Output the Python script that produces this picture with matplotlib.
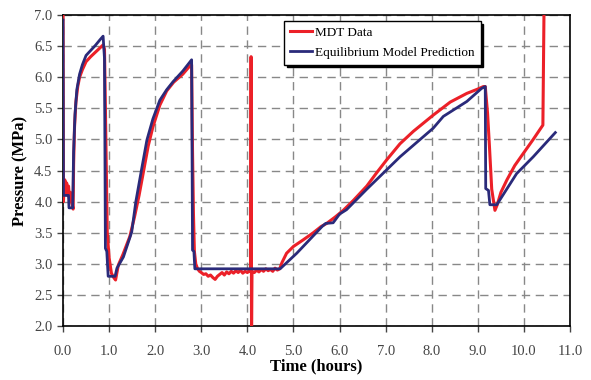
import matplotlib
matplotlib.use("Agg")
import matplotlib.pyplot as plt
from matplotlib.ticker import MultipleLocator, FormatStrFormatter

# MDT measured pressure (hours, MPa)
mdt_t = [0.0, 0.01, 0.02, 0.04, 0.06, 0.08, 0.10, 0.12, 0.14, 0.16, 0.18, 0.20, 0.22,
         0.23, 0.25, 0.28, 0.32, 0.36, 0.42, 0.50, 0.60, 0.70, 0.80, 0.87, 0.90,
         0.92, 0.94, 0.96, 1.00, 1.05, 1.10, 1.14, 1.20, 1.30, 1.45, 1.55, 1.65,
         1.75, 1.85, 1.95, 2.10, 2.25, 2.40, 2.60, 2.75, 2.79, 2.81, 2.83, 2.85,
         2.88, 2.92, 2.96, 3.00, 3.05, 3.10, 3.15, 3.20, 3.25, 3.30, 3.35, 3.40,
         3.45, 3.50, 3.55, 3.60, 3.65, 3.70, 3.75, 3.80, 3.85, 3.90, 3.95, 4.00,
         4.05, 4.07, 4.08, 4.09, 4.10, 4.15, 4.20, 4.25, 4.30, 4.35, 4.40, 4.45,
         4.50, 4.55, 4.60, 4.65, 4.70, 4.75, 4.85, 5.00, 5.20, 5.43, 5.60, 5.72,
         5.90, 6.08, 6.30, 6.59, 6.80, 7.02, 7.31, 7.60, 8.03, 8.40, 8.76, 9.00,
         9.12, 9.16, 9.21, 9.25, 9.30, 9.37, 9.42, 9.50, 9.63, 9.80, 9.99, 10.20,
         10.41, 10.44]
mdt_p = [7.3, 4.0, 4.2, 4.35, 4.15, 4.3, 4.1, 4.25, 4.05, 4.15, 4.0, 3.95, 3.88,
         4.6, 5.2, 5.6, 5.85, 6.0, 6.12, 6.25, 6.33, 6.4, 6.47, 6.52, 6.45,
         5.5, 4.5, 3.5, 3.1, 2.85, 2.78, 2.74, 2.98, 3.15, 3.44, 3.75, 4.1,
         4.5, 4.9, 5.2, 5.55, 5.78, 5.92, 6.05, 6.18, 6.2, 4.8, 3.8, 3.2,
         3.0, 2.92, 2.88, 2.86, 2.83, 2.84, 2.80, 2.82, 2.78, 2.75, 2.80, 2.83,
         2.86, 2.82, 2.87, 2.84, 2.88, 2.85, 2.89, 2.86, 2.90, 2.85, 2.88, 2.86,
         2.89, 2.88, 6.33, 1.8, 2.88, 2.86, 2.90, 2.87, 2.91, 2.88, 2.92, 2.89,
         2.91, 2.88, 2.93, 2.90, 2.92, 3.02, 3.17, 3.28, 3.38, 3.50, 3.60, 3.65,
         3.75, 3.86, 4.02, 4.25, 4.46, 4.67, 4.93, 5.13, 5.39, 5.60, 5.74, 5.81,
         5.85, 5.85, 5.42, 4.9, 4.2, 3.86, 3.95, 4.15, 4.35, 4.58, 4.78, 5.0,
         5.23, 7.5]

# Equilibrium model prediction
eq_t = [0.0, 0.01, 0.12, 0.13, 0.21, 0.23, 0.26, 0.30, 0.36, 0.42, 0.50, 0.60,
        0.70, 0.80, 0.87, 0.90, 0.92, 0.95, 0.98, 1.13, 1.17, 1.31, 1.49, 1.58,
        1.70, 1.82, 1.95, 2.10, 2.25, 2.39, 2.60, 2.79, 2.81, 2.84, 2.86, 4.71,
        5.07, 5.48, 5.62, 5.70, 5.86, 6.00, 6.15, 6.59, 7.31, 8.03, 8.25, 8.76,
        9.08, 9.16, 9.17, 9.23, 9.26, 9.41, 9.84, 10.20, 10.68]
eq_p = [6.92, 4.1, 4.1, 3.9, 3.9, 4.8, 5.4, 5.8, 6.05, 6.2, 6.35, 6.43,
        6.51, 6.6, 6.66, 6.3, 3.25, 3.2, 2.8, 2.8, 2.93, 3.11, 3.51, 4.0,
        4.5, 4.99, 5.33, 5.63, 5.8, 5.93, 6.1, 6.28, 3.22, 3.2, 2.92, 2.92,
        3.17, 3.49, 3.6, 3.65, 3.66, 3.8, 3.87, 4.2, 4.72, 5.18, 5.37, 5.61,
        5.82, 5.85, 4.21, 4.18, 3.95, 3.95, 4.45, 4.72, 5.11]

plt.rcParams["font.family"] = ["Liberation Serif", "DejaVu Serif"]

fig = plt.figure(figsize=(5.91, 3.80), dpi=100)
ax = fig.add_axes([0.1066, 0.142, 0.858, 0.8185])

ax.plot(mdt_t, mdt_p, color="#ec2028", lw=2.2, label="MDT Data", zorder=3)
ax.plot(eq_t, eq_p, color="#2a2a7a", lw=2.0, label="Equilibrium Model Prediction", zorder=4)

ax.set_xlim(0, 11)
ax.set_ylim(2.0, 7.0)
ax.xaxis.set_major_locator(MultipleLocator(1.0))
ax.yaxis.set_major_locator(MultipleLocator(0.5))
ax.xaxis.set_major_formatter(FormatStrFormatter("%.1f"))
ax.yaxis.set_major_formatter(FormatStrFormatter("%.1f"))
ax.tick_params(direction="out", length=4, width=1, labelsize=10.5, colors="#444444")
ax.tick_params(axis="x", pad=10)
ax.grid(True, color="#888888", lw=1, linestyle=(0, (6, 4)))
for s in ax.spines.values():
    s.set_linewidth(1.2)
    s.set_color("black")

ax.set_xlabel("Time (hours)", fontsize=12, fontweight="bold", labelpad=0)
ax.set_ylabel("Pressure (MPa)", fontsize=12, fontweight="bold", labelpad=4)

leg = ax.legend(loc="upper left", bbox_to_anchor=(0.436, 0.981), borderaxespad=0,
                fontsize=9.5, frameon=True, fancybox=False,
                shadow={"color": "black", "alpha": 1}, edgecolor="black",
                framealpha=1, handlelength=1.7, handletextpad=0.2,
                borderpad=0.45, labelspacing=0.55)
leg.get_frame().set_linewidth(1.0)

fig.savefig("out.png", dpi=100)
